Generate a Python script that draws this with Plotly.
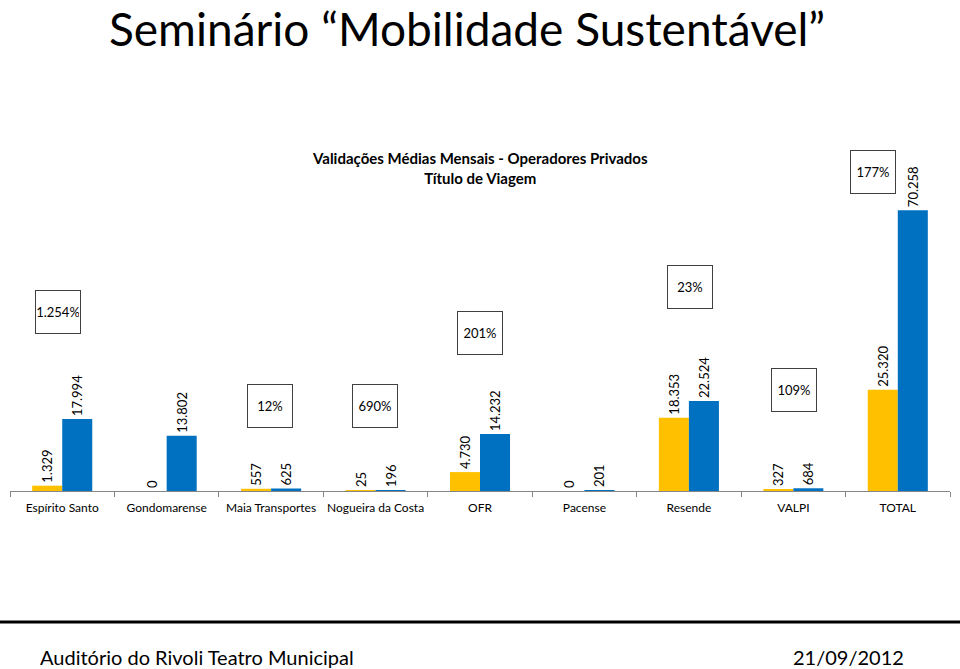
import plotly.graph_objects as go

# ---- data ----
categories = ["Espírito Santo", "Gondomarense", "Maia Transportes", "Nogueira da Costa",
              "OFR", "Pacense", "Resende", "VALPI", "TOTAL"]
serie_a = [1329, 0, 557, 25, 4730, 0, 18353, 327, 25320]       # yellow
serie_b = [17994, 13802, 625, 196, 14232, 201, 22524, 684, 70258]  # blue
variacao = ["1.254%", "", "12%", "690%", "201%", "", "23%", "109%", "177%"]

# ---- layout helpers ----
W, H = 960, 669
PLOT_TOP, PLOT_BOTTOM = 150, 491
PLOT_LEFT, PLOT_RIGHT = 10, 950
FONT = "Lato"

def py(p):
    return (PLOT_BOTTOM - p) / (PLOT_BOTTOM - PLOT_TOP)

def px(p):
    return (p - PLOT_LEFT) / (PLOT_RIGHT - PLOT_LEFT)

fig = go.Figure()
for vals, col in [(serie_a, "#FFC000"), (serie_b, "#0070C0")]:
    fig.add_trace(go.Bar(
        x=categories, y=vals, marker=dict(color=col, line=dict(width=0)),
        texttemplate="%{y:,.0f}", textposition="outside", textangle=-90,
        textfont=dict(family=FONT, size=13, color="#000000"),
        constraintext="none", cliponaxis=False, hoverinfo="skip",
    ))

# boxes: x pixel center, y pixel center
box_pos = [(58, 312), None, (270, 406), (375, 406), (480, 333), None, (690, 287), (794, 390), (873, 172)]
for lab, pos in zip(variacao, box_pos):
    if not lab or pos is None:
        continue
    fig.add_annotation(
        x=px(pos[0]), y=py(pos[1]), xref="paper", yref="paper",
        text=lab, showarrow=False, width=42, height=40, borderpad=1,
        bordercolor="#404040", borderwidth=1, bgcolor="rgba(255,255,255,0)",
        font=dict(family=FONT, size=13, color="#000000"),
        xanchor="center", yanchor="middle",
    )

# slide title
fig.add_annotation(x=px(467), y=py(0), xref="paper", yref="paper",
                   text="Seminário “Mobilidade Sustentável”", showarrow=False,
                   font=dict(family=FONT, size=46, color="#000000"),
                   xanchor="center", yanchor="top", borderpad=0)
# chart title
fig.add_annotation(x=px(480), y=py(168), xref="paper", yref="paper",
                   text="<b>Validações Médias Mensais - Operadores Privados<br>Título de Viagem</b>",
                   showarrow=False, font=dict(family=FONT, size=15, color="#000000"),
                   xanchor="center", yanchor="middle")
# footer
fig.add_annotation(x=px(38), y=py(657), xref="paper", yref="paper",
                   text="Auditório do Rivoli Teatro Municipal", showarrow=False,
                   font=dict(family=FONT, size=20, color="#000000"),
                   xanchor="left", yanchor="middle")
fig.add_annotation(x=px(906), y=py(657), xref="paper", yref="paper",
                   text="21/09/2012", showarrow=False,
                   font=dict(family=FONT, size=20, color="#000000"),
                   xanchor="right", yanchor="middle")
fig.add_shape(type="line", xref="paper", yref="paper",
              x0=px(0), x1=px(960), y0=py(622), y1=py(622),
              line=dict(color="#000000", width=3))

fig.update_layout(
    width=W, height=H,
    margin=dict(l=PLOT_LEFT, r=W - PLOT_RIGHT, t=PLOT_TOP, b=H - PLOT_BOTTOM, pad=0),
    paper_bgcolor="white", plot_bgcolor="white",
    barmode="group", bargap=0.425, bargroupgap=0,
    showlegend=False, separators=",.",
    font=dict(family=FONT, color="#000000"),
    xaxis=dict(showline=True, linecolor="#868686", linewidth=1, ticks="outside",
               tickson="boundaries", ticklen=5, tickcolor="#868686", tickangle=0,
               ticklabelstandoff=6,
               tickfont=dict(family=FONT, size=12, color="#000000"),
               showgrid=False, zeroline=False, fixedrange=True),
    yaxis=dict(range=[0, 85300], visible=False, showgrid=False, zeroline=False, fixedrange=True),
)

fig.write_html("out.html")
